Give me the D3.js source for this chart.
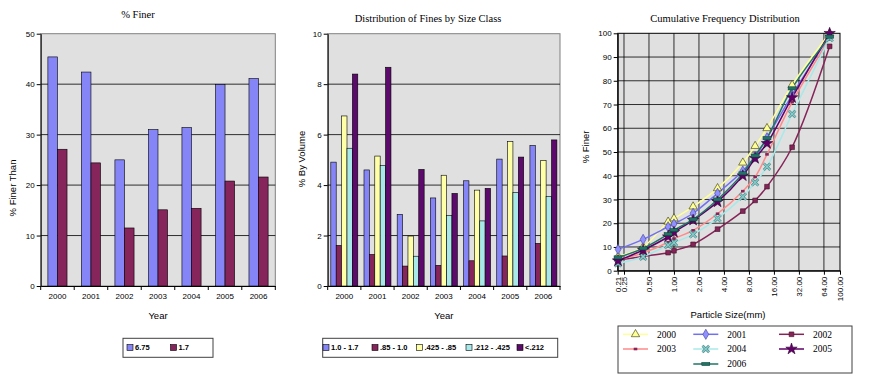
<!DOCTYPE html>
<html>
<head>
<meta charset="utf-8">
<script src="https://cdn.jsdelivr.net/npm/d3@7"></script>
<style>
body { margin: 0; background: #ffffff; }
svg { display: block; }
</style>
</head>
<body>
<svg id="chart" width="871" height="376"></svg>
<script>
// --- data ---
const years = ['2000', '2001', '2002', '2003', '2004', '2005', '2006'];

const finer_names = ['6.75', '1.7'];
const finer_675 = [45.4, 42.4, 25.0, 31.0, 31.4, 39.9, 41.1];
const finer_17 = [27.1, 24.4, 11.5, 15.1, 15.4, 20.8, 21.6];

const size_classes = ['1.0 - 1.7', '.85 - 1.0', '.425 - .85', '.212 - .425', '<.212'];
const fines_10_17 = [4.91, 4.60, 2.84, 3.49, 4.17, 5.03, 5.57];
const fines_085_10 = [1.61, 1.25, 0.79, 0.82, 1.00, 1.19, 1.69];
const fines_0425_085 = [6.74, 5.15, 1.98, 4.39, 3.80, 5.72, 4.98];
const fines_0212_0425 = [5.46, 4.78, 1.18, 2.80, 2.58, 3.70, 3.55];
const fines_lt_0212 = [8.40, 8.67, 4.62, 3.67, 3.87, 5.11, 5.79];

const particle_sizes = [0.212, 0.425, 0.85, 1.0, 1.7, 3.35, 6.75, 9.5, 13.2, 26.5, 75];
const size_ticks = [0.21, 0.25, 0.5, 1, 2, 4, 8, 16, 32, 64, 100];
const cum_2000 = [6.0, 10.0, 20.6, 22.0, 27.0, 34.7, 45.5, 52.5, 60.0, 78.2, 100];
const cum_2001 = [9.0, 13.2, 18.5, 19.7, 24.2, 32.6, 42.0, 48.0, 56.0, 74.0, 99.0];
const cum_2002 = [4.5, 6.0, 7.6, 8.4, 11.1, 17.5, 25.1, 29.6, 35.4, 52.0, 94.5];
const cum_2003 = [4.5, 7.5, 12.0, 13.5, 17.0, 24.0, 33.5, 39.5, 49.0, 71.0, 98.0];
const cum_2004 = [3.1, 5.9, 10.8, 11.8, 15.3, 22.0, 31.2, 37.2, 43.8, 66.0, 98.0];
const cum_2005 = [4.2, 8.7, 14.3, 16.2, 21.3, 29.0, 40.0, 47.3, 53.6, 72.9, 100];
const cum_2006 = [5.6, 9.4, 15.4, 17.1, 21.6, 30.0, 41.0, 48.5, 55.8, 76.8, 98.6];

(function() {
    const svg = d3.select('#chart');
    const plot_fill = '#e0e0e0';
    const sans = 'Liberation Sans, Arial, sans-serif';
    const serif = 'Liberation Serif, Times New Roman, serif';

    svg.append('rect').attr('width', 871).attr('height', 376).attr('fill', '#ffffff');

    let bar_chart = function(fmt, series) {
        let g = svg.append('g');

        let x = d3.scaleBand().domain(years).range([fmt.left, fmt.right]);
        let y = d3.scaleLinear().domain([0, fmt.ymax]).range([fmt.bottom, fmt.top]);

        g.append('rect')
            .attr('x', fmt.left)
            .attr('y', fmt.top)
            .attr('width', fmt.right - fmt.left)
            .attr('height', fmt.bottom - fmt.top)
            .attr('fill', plot_fill)
            .attr('stroke', '#808080');

        g.append('g').selectAll('line')
            .data(y.ticks(5).filter((v) => v > 0 && v < fmt.ymax))
            .enter().append('line')
            .attr('x1', fmt.left).attr('x2', fmt.right)
            .attr('y1', (d) => y(d)).attr('y2', (d) => y(d))
            .attr('stroke', '#000000')
            .attr('stroke-width', 0.8);

        let bar_w = x.bandwidth() / fmt.bar_div;
        let group_w = bar_w * series.length;
        series.forEach(function(s, i) {
            g.append('g').selectAll('rect')
                .data(s.values)
                .enter().append('rect')
                .attr('x', (d, j) => x(years[j]) + (x.bandwidth() - group_w) / 2 + i * bar_w)
                .attr('y', (d) => y(d))
                .attr('width', bar_w)
                .attr('height', (d) => y(0) - y(d))
                .attr('fill', s.color)
                .attr('stroke', '#000000')
                .attr('stroke-width', 0.6);
        });

        let y_axis = g.append('g')
            .attr('transform', 'translate(' + fmt.left + ',0)')
            .call(d3.axisLeft(y).ticks(5).tickSize(4).tickSizeOuter(0).tickPadding(2));
        let x_axis = g.append('g')
            .attr('transform', 'translate(0,' + fmt.bottom + ')')
            .call(d3.axisBottom(x).tickSize(0).tickSizeOuter(0).tickPadding(7));
        x_axis.selectAll('.tick-edge')
            .data(years.map((d) => x(d)).concat([fmt.right]))
            .enter().append('line')
            .attr('x1', (d) => d).attr('x2', (d) => d)
            .attr('y1', 0).attr('y2', 4)
            .attr('stroke', '#000000');
        [y_axis, x_axis].forEach(function(a) {
            a.attr('font-family', sans).attr('font-size', 8);
            a.selectAll('text').attr('fill', '#000000');
        });

        svg.append('text')
            .attr('x', fmt.title_x).attr('y', fmt.title_y)
            .attr('text-anchor', 'middle')
            .attr('font-family', serif).attr('font-size', 10.5)
            .text(fmt.title);
        svg.append('text')
            .attr('transform', 'translate(' + fmt.ylabel_x + ',' + fmt.ylabel_y + ') rotate(-90)')
            .attr('text-anchor', 'middle')
            .attr('dy', '0.35em')
            .attr('font-family', sans).attr('font-size', 9.5)
            .text(fmt.ylabel);
        svg.append('text')
            .attr('x', (fmt.left + fmt.right) / 2).attr('y', 319)
            .attr('text-anchor', 'middle')
            .attr('font-family', sans).attr('font-size', 9.5)
            .text('Year');

        // legend box
        let lg = svg.append('g');
        lg.append('rect')
            .attr('x', fmt.legend.x).attr('y', 338.3)
            .attr('width', fmt.legend.w).attr('height', 19)
            .attr('fill', '#ffffff')
            .attr('stroke', '#404040');
        series.forEach(function(s, i) {
            let lx = fmt.legend.items[i];
            lg.append('rect')
                .attr('x', lx - 3).attr('y', 344.5)
                .attr('width', 6).attr('height', 6)
                .attr('fill', s.color)
                .attr('stroke', '#000000').attr('stroke-width', 0.6);
            lg.append('text')
                .attr('x', lx + 5).attr('y', 347.8)
                .attr('dy', '0.35em')
                .attr('font-family', sans).attr('font-size', 7.5).attr('font-weight', 'bold')
                .text(s.name);
        });
    };

    bar_chart({
        left: 40.7, right: 275.3, top: 33.7, bottom: 286, ymax: 50, bar_div: 3.5,
        title: '% Finer', title_x: 138, title_y: 18,
        ylabel: '% Finer Than', ylabel_x: 13, ylabel_y: 188,
        legend: { x: 123, w: 90, items: [130, 173.5] }
    }, [
        { name: finer_names[0], color: '#8585f8', values: finer_675 },
        { name: finer_names[1], color: '#86245c', values: finer_17 }
    ]);

    bar_chart({
        left: 327.7, right: 560, top: 33.7, bottom: 286, ymax: 10, bar_div: 6.15,
        title: 'Distribution of Fines by Size Class', title_x: 428, title_y: 22,
        ylabel: '% By Volume', ylabel_x: 302, ylabel_y: 159,
        legend: { x: 322.7, w: 235, items: [326, 375, 419.5, 469, 520] }
    }, [
        { name: size_classes[0], color: '#8585f8', values: fines_10_17 },
        { name: size_classes[1], color: '#86245c', values: fines_085_10 },
        { name: size_classes[2], color: '#ffffa8', values: fines_0425_085 },
        { name: size_classes[3], color: '#a8e8e8', values: fines_0212_0425 },
        { name: size_classes[4], color: '#5c0a6c', values: fines_lt_0212 }
    ]);

    // --- cumulative frequency distribution ---
    let cum_series = [
        { name: '2000', values: cum_2000, line: '#ffff99', mark: 'triangle', fill: '#ffff99', edge: '#303000' },
        { name: '2001', values: cum_2001, line: '#7070f0', mark: 'diamond', fill: '#9090ff', edge: '#404090' },
        { name: '2002', values: cum_2002, line: '#862458', mark: 'square', fill: '#862458', edge: '#40102a' },
        { name: '2003', values: cum_2003, line: '#ff8a8a', mark: 'small', fill: '#862458', edge: '#862458' },
        { name: '2004', values: cum_2004, line: '#a8e8e8', mark: 'x', fill: '#88cccc', edge: '#4a8a8a' },
        { name: '2005', values: cum_2005, line: '#600068', mark: 'star', fill: '#600068', edge: '#300034' },
        { name: '2006', values: cum_2006, line: '#1f7466', mark: 'dash', fill: '#1f7466', edge: '#0c3a33' }
    ];

    let cx = d3.scaleLog().domain([0.21, 100]).range([617.7, 840]);
    let cy = d3.scaleLinear().domain([0, 100]).range([270.7, 33.3]);

    let cg = svg.append('g');
    cg.append('rect')
        .attr('x', cx.range()[0]).attr('y', cy.range()[1])
        .attr('width', cx.range()[1] - cx.range()[0])
        .attr('height', cy.range()[0] - cy.range()[1])
        .attr('fill', plot_fill)
        .attr('stroke', '#000000');

    cg.append('g').selectAll('line')
        .data(size_ticks.slice(1, -1))
        .enter().append('line')
        .attr('x1', (d) => cx(d)).attr('x2', (d) => cx(d))
        .attr('y1', cy.range()[0]).attr('y2', cy.range()[1])
        .attr('stroke', '#000000').attr('stroke-width', 0.8);
    cg.append('g').selectAll('line')
        .data(d3.range(10, 100, 10))
        .enter().append('line')
        .attr('x1', cx.range()[0]).attr('x2', cx.range()[1])
        .attr('y1', (d) => cy(d)).attr('y2', (d) => cy(d))
        .attr('stroke', '#000000').attr('stroke-width', 0.8);

    let cy_axis = cg.append('g')
        .attr('transform', 'translate(' + cx.range()[0] + ',0)')
        .call(d3.axisLeft(cy).tickValues(d3.range(0, 101, 10)).tickSize(4).tickSizeOuter(0).tickPadding(2));
    let cx_axis = cg.append('g')
        .attr('transform', 'translate(0,' + cy.range()[0] + ')')
        .call(d3.axisBottom(cx).tickValues(size_ticks).tickFormat(d3.format('.2f')).tickSize(4).tickSizeOuter(0));
    cx_axis.selectAll('text')
        .attr('transform', 'rotate(-90)')
        .attr('text-anchor', 'end')
        .attr('x', -6).attr('y', 0)
        .attr('dy', '0.35em');
    [cy_axis, cx_axis].forEach(function(a) {
        a.attr('font-family', sans).attr('font-size', 8);
        a.selectAll('text').attr('fill', '#000000');
    });

    let draw_mark = function(sel, s, px, py) {
        let m = sel.append('g').attr('transform', 'translate(' + px + ',' + py + ')');
        if (s.mark === 'triangle') {
            m.append('path').attr('d', d3.symbol(d3.symbolTriangle, 30)())
                .attr('fill', s.fill).attr('stroke', s.edge).attr('stroke-width', 0.6);
        } else if (s.mark === 'diamond') {
            m.append('path').attr('d', d3.symbol(d3.symbolDiamond, 30)())
                .attr('fill', s.fill).attr('stroke', s.edge).attr('stroke-width', 0.6);
        } else if (s.mark === 'square') {
            m.append('path').attr('d', d3.symbol(d3.symbolSquare, 22)())
                .attr('fill', s.fill).attr('stroke', s.edge).attr('stroke-width', 0.6);
        } else if (s.mark === 'small') {
            m.append('rect').attr('x', -1.8).attr('y', -1.3).attr('width', 3.6).attr('height', 2.6)
                .attr('fill', s.fill);
        } else if (s.mark === 'x') {
            m.append('path').attr('d', d3.symbol(d3.symbolX, 30)())
                .attr('stroke', s.edge).attr('stroke-width', 2.6).attr('fill', 'none');
            m.append('path').attr('d', d3.symbol(d3.symbolX, 30)())
                .attr('stroke', s.fill).attr('stroke-width', 1.3).attr('fill', 'none');
        } else if (s.mark === 'star') {
            m.append('path').attr('d', d3.symbol(d3.symbolStar, 40)())
                .attr('fill', s.fill).attr('stroke', s.edge).attr('stroke-width', 0.6);
        } else if (s.mark === 'dash') {
            m.append('rect').attr('x', -4).attr('y', -1.6).attr('width', 8).attr('height', 3.2)
                .attr('fill', s.fill).attr('stroke', s.edge).attr('stroke-width', 0.5);
        }
    };

    let line = d3.line()
        .x((d) => cx(d[0]))
        .y((d) => cy(d[1]))
        .curve(d3.curveCatmullRom.alpha(0.5));

    cum_series.forEach(function(s) {
        let pts = particle_sizes.map((p, i) => [p, s.values[i]]);
        cg.append('path').datum(pts)
            .attr('fill', 'none')
            .attr('stroke', s.line)
            .attr('stroke-width', 1.5)
            .attr('d', line);
    });
    cum_series.forEach(function(s) {
        let mg = cg.append('g');
        particle_sizes.forEach(function(p, i) {
            draw_mark(mg, s, cx(p), cy(s.values[i]));
        });
    });

    svg.append('text')
        .attr('x', 725).attr('y', 22)
        .attr('text-anchor', 'middle')
        .attr('font-family', serif).attr('font-size', 10.5)
        .text('Cumulative Frequency Distribution');
    svg.append('text')
        .attr('transform', 'translate(586,147) rotate(-90)')
        .attr('text-anchor', 'middle')
        .attr('dy', '0.35em')
        .attr('font-family', sans).attr('font-size', 9.5)
        .text('% Finer');
    svg.append('text')
        .attr('x', 728).attr('y', 318)
        .attr('text-anchor', 'middle')
        .attr('font-family', sans).attr('font-size', 9.5)
        .text('Particle Size(mm)');

    // legend, three columns
    let leg = svg.append('g');
    leg.append('rect')
        .attr('x', 618).attr('y', 326)
        .attr('width', 234).attr('height', 47)
        .attr('fill', '#ffffff')
        .attr('stroke', '#404040');
    let col_x = [623, 693.3, 779];
    let row_y = [334.3, 349, 364];
    let slots = [[0, 0], [1, 0], [2, 0], [0, 1], [1, 1], [2, 1], [1, 2]];
    cum_series.forEach(function(s, i) {
        let lx = col_x[slots[i][0]], ly = row_y[slots[i][1]];
        leg.append('line')
            .attr('x1', lx).attr('x2', lx + 25)
            .attr('y1', ly).attr('y2', ly)
            .attr('stroke', s.line).attr('stroke-width', 1.5);
        draw_mark(leg, s, lx + 12.5, ly);
        leg.append('text')
            .attr('x', lx + 34).attr('y', ly)
            .attr('dy', '0.35em')
            .attr('font-family', serif).attr('font-size', 9.5)
            .text(s.name);
    });
}());
</script>
</body>
</html>
